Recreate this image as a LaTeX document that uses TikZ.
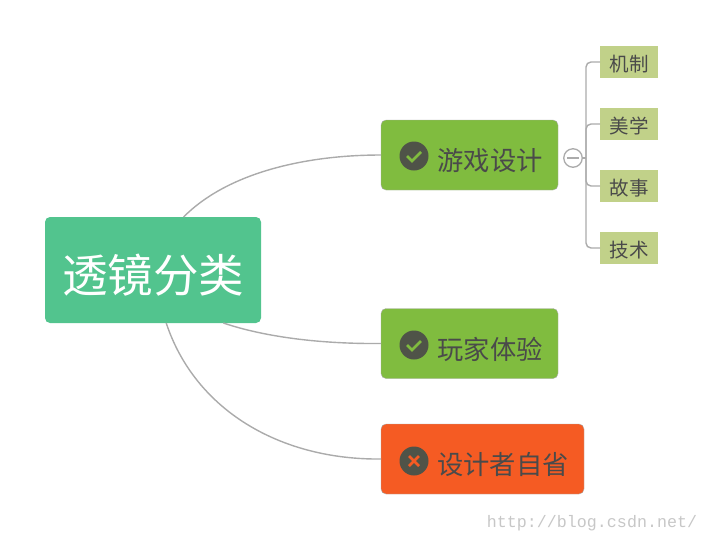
\documentclass[tikz,border=0pt]{standalone}
\usepackage{fontspec}
\newfontfamily\cjk{Noto Sans CJK SC}
\setmonofont{Liberation Mono}
\definecolor{rootgreen}{HTML}{52C48E}
\definecolor{boxgreen}{HTML}{80BC3F}
\definecolor{boxorange}{HTML}{F55B23}
\definecolor{leafgreen}{HTML}{C1D189}
\definecolor{inkgrey}{HTML}{4A4A4A}
\definecolor{icongrey}{HTML}{4F5348}
\definecolor{linegrey}{HTML}{ABABAB}
\begin{document}
\begin{tikzpicture}[x=1pt,y=-1pt,
    rootbox/.style = {fill=rootgreen, rounded corners=5pt, minimum width=216pt, minimum height=106pt, inner sep=0pt, outer sep=0pt},
    topicbox/.style = {draw=linegrey, rounded corners=5pt, minimum height=70pt, inner sep=0pt, outer sep=0pt},
    topictext/.style = {text=inkgrey, font=\cjk\fontsize{26.3pt}{26pt}\selectfont, inner sep=0pt},
    leafbox/.style = {fill=leafgreen, minimum width=58pt, minimum height=32pt, inner sep=0pt, outer sep=0pt},
    leaftext/.style = {text=inkgrey, inner sep=0pt, font=\cjk\fontsize{19.5pt}{20pt}\selectfont},
    iconball/.style = {circle, fill=icongrey, minimum size=29pt, inner sep=0pt, outer sep=0pt},
    conn/.style = {draw=linegrey, line width=1.4pt}]
\useasboundingbox (0,0) rectangle (708,542);
\node[rootbox] (root) at (153,270) {};
\node[text=white, inner sep=0pt, font=\cjk\fontsize{45.5pt}{45pt}\selectfont] (roottext) at (153,275) {透镜分类};
\node[topicbox, fill=boxgreen, minimum width=177pt] (game) at (469.5,155) {};
\node[topicbox, fill=boxgreen, minimum width=177pt] (player) at (469.5,343.5) {};
\node[topicbox, fill=boxorange, minimum width=203pt] (designer) at (482.5,459) {};
\node[topictext] (gametext) at (490,161) {游戏设计};
\node[topictext] (playertext) at (490,349) {玩家体验};
\node[topictext] (designertext) at (503,465) {设计者自省};
% icons
\node[iconball] (gameicon) at (414,156) {};
\node[iconball] (playericon) at (414,345) {};
\node[iconball] (designericon) at (414,461) {};
\foreach \n in {gameicon,playericon}
    \draw[boxgreen, line width=2.6pt] ([shift={(-7,0)}]\n.center) -- ([shift={(-2,5)}]\n.center) -- ([shift={(7,-4)}]\n.center);
\draw[boxorange, line width=2.6pt] ([shift={(-5,-5)}]designericon.center) -- ([shift={(5,5)}]designericon.center);
\draw[boxorange, line width=2.6pt] ([shift={(-5,5)}]designericon.center) -- ([shift={(5,-5)}]designericon.center);
% connectors from the root
\draw[conn] (root.60.5) .. controls (225,175) and (300,155) .. (game.west);
\draw[conn] (root.-37.9) .. controls (265,337) and (320,344) .. (player.west);
\draw[conn] (root.-76.2) .. controls (195,410) and (280,460) .. (designer.west);
% collapse mark and leaves
\node[circle, draw=linegrey, fill=white, line width=1.3pt, minimum size=18.5pt, inner sep=0pt, outer sep=0pt] (collapse) at (573,158) {};
\draw[linegrey, line width=1.3pt] ([xshift=-6]collapse.center) -- ([xshift=6]collapse.center);
\coordinate (trunk) at (586,158);
\draw[conn] (collapse.east) -- (trunk);
\foreach \n/\t/\y in {mech/机制/62,art/美学/124,story/故事/186,tech/技术/248} {
    \node[leafbox] (\n) at (629,\y) {};
    \node[leaftext] at (629,\y + 2) {\t};
    \draw[conn, rounded corners=5pt] (trunk) |- (\n.west);
}
\node[text=black!22, inner sep=0pt, font=\ttfamily\fontsize{16.67pt}{17pt}\selectfont] (mark) at (592,523) {http://blog.csdn.net/};
\end{tikzpicture}
\end{document}
